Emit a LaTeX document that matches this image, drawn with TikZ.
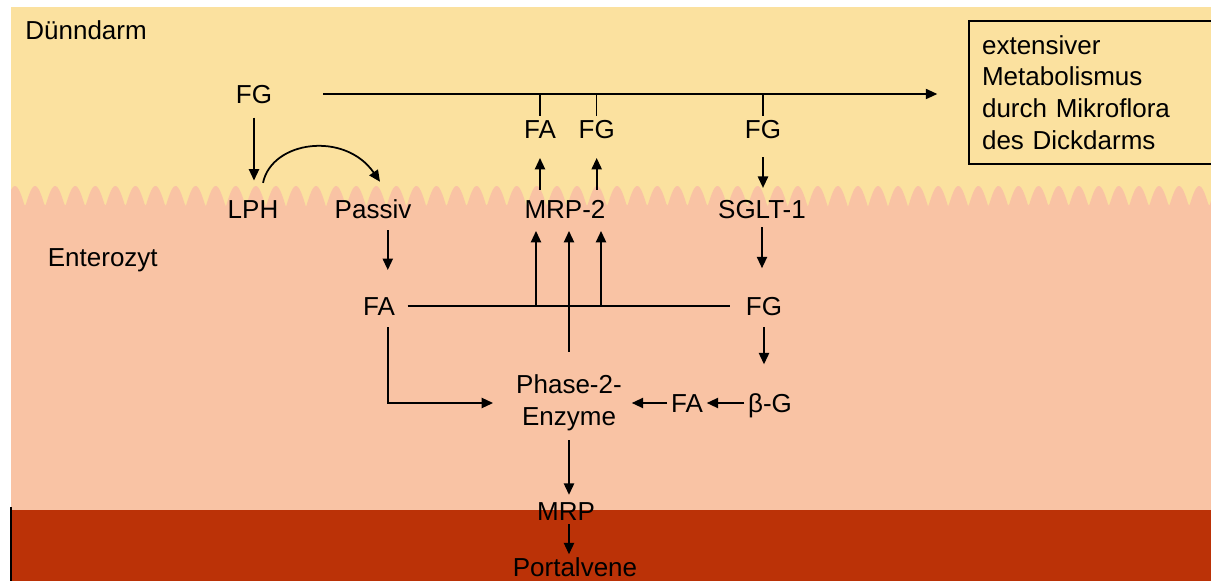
\documentclass[tikz,border=0pt]{standalone}
\usepackage{fontspec}
\setmainfont{Liberation Sans}
\usetikzlibrary{positioning, arrows.meta, calc}
\definecolor{darmgelb}{HTML}{FBE19F}
\definecolor{zellrosa}{HTML}{F9C3A4}
\definecolor{venenrot}{HTML}{BB3207}

\begin{document}
\begin{tikzpicture}[
  x=0.02cm, y=-0.02cm,
  >={Triangle[length=6.5pt, width=5.8pt]},
  font=\fontsize{14.8}{18}\selectfont,
  lbl/.style={inner sep=2pt, text height=10.6pt, text depth=0pt},
  arr/.style={->, line width=1pt},
  bus/.style={line width=0.8pt}
]
\useasboundingbox (0,0) rectangle (1211,581);
\clip (0,0) rectangle (1211,581);
% Schichten: Lumen, Enterozyt, Portalvene
\fill[darmgelb] (11,7.5) rectangle (1211,210);
\fill[zellrosa] (11,510) -- plot[domain=11:1211, samples=900]
  (\x, {186+21*(1-abs(cos(8.96861*(\x-15))))}) -- (1211,510) -- cycle;
\fill[venenrot] (12,510) rectangle (1211,581);
\fill[black] (10,507) rectangle (12,581);

\node[lbl, anchor=west] (duenn) at (21.5,30.5) {Dünndarm};
\node[lbl, anchor=west] (entero) at (44,257) {Enterozyt};
\node[lbl] (fgIn) at (254,94) {FG};
\node[lbl] (faOut) at (540,129) {FA};
\node[lbl, right=0.3cm of faOut] (fgOut) {FG};
\node[lbl] (fgLum) at (763,129) {FG};
\node[lbl] (lph) at (253,209) {LPH};
\node[lbl] (passiv) at (373,209) {Passiv};
\node[lbl] (mrp2) at (565,209) {MRP-2};
\node[lbl] (sglt) at (762,209) {SGLT-1};
\node[lbl] (faCell) at (379,306) {FA};
\node[lbl] (fgCell) at (764,306) {FG};
\node[inner sep=2pt, align=center] (phase) at (569,403) {Phase-2-\\Enzyme};
\node[lbl] (faMid) at (687,403) {FA};
\node[lbl, right=0.75cm of faMid] (betaG) {β-G};
\node[lbl] (mrp) at (566,511) {MRP};
\node[lbl] (portal) at (575,567.5) {Portalvene};
\node[draw, line width=1pt, anchor=north west, minimum height=2.86cm,
  text width=5cm, inner xsep=7.5pt, align=left] (flora) at (968,20)
  {extensiver\\Metabolismus\\durch Mikroflora\\des Dickdarms};

\coordinate (spalte) at ([xshift=5pt]faCell.south);
\coordinate (mrpL) at ([xshift=-16.5pt]mrp2.south);
\coordinate (mrpR) at ([xshift=20.5pt]mrp2.south);

% Lumen
\draw[arr, line width=0.8pt, shorten <=27pt, shorten >=17.5pt] (fgIn.east) -- (fgIn.east -| flora.west);
\draw[bus] (faOut.north |- fgIn.east) -- (faOut.north);
\draw[bus] (fgOut.north |- fgIn.east) -- (fgOut.north);
\draw[bus] (fgLum.north |- fgIn.east) -- (fgLum.north);
\draw[arr, shorten <=6pt, shorten >=8.7pt] (fgIn.south) -- (fgIn.south |- lph.north);
\draw[arr] ([xshift=5.7pt, yshift=7.4pt]lph.north) .. controls +(5pt,24pt) and +(-20pt,29pt) .. ([xshift=4pt, yshift=8pt]passiv.north);
\draw[arr, shorten <=3.5pt, shorten >=9pt] (mrp2.north -| faOut) -- (faOut.south);
\draw[arr, shorten <=3.5pt, shorten >=9pt] (mrp2.north -| fgOut) -- (fgOut.south);
\draw[arr, shorten <=8.5pt, shorten >=4.5pt] (fgLum.south) -- (fgLum.south |- sglt.north);

% Enterozyt
\draw[arr, shorten <=3pt, shorten >=14pt] (sglt.south) -- (sglt.south |- fgCell.north);
\draw[arr, shorten <=4.5pt, shorten >=13pt] (spalte |- passiv.south) -- (spalte |- faCell.north);
\draw[bus, shorten <=5pt, shorten >=7pt] (faCell.east) -- (fgCell.west);
\draw[arr, shorten >=5pt] (mrpL |- faCell.east) -- (mrpL);
\draw[arr, shorten >=5pt] (mrpR |- faCell.east) -- (mrpR);
\draw[arr, shorten <=11pt, shorten >=5pt] (phase.north) -- (phase.north |- mrp2.south);
\draw[arr, shorten <=4.5pt, shorten >=11pt] (spalte) |- (phase.west);
\draw[arr, shorten <=4.5pt, shorten >=14.5pt] (fgCell.south) -- (fgCell.south |- betaG.north);
\draw[arr] (betaG.west) -- (betaG.west -| faMid.east);
\draw[arr, shorten >=3.5pt] (faMid.west) -- (faMid.west -| phase.east);

% Abfluss
\draw[arr, shorten <=3pt, shorten >=1.7pt] (phase.south) -- (phase.south |- mrp.north);
\draw[arr] (phase.south |- mrp.south) -- (phase.south |- portal.north);
\end{tikzpicture}
\end{document}
